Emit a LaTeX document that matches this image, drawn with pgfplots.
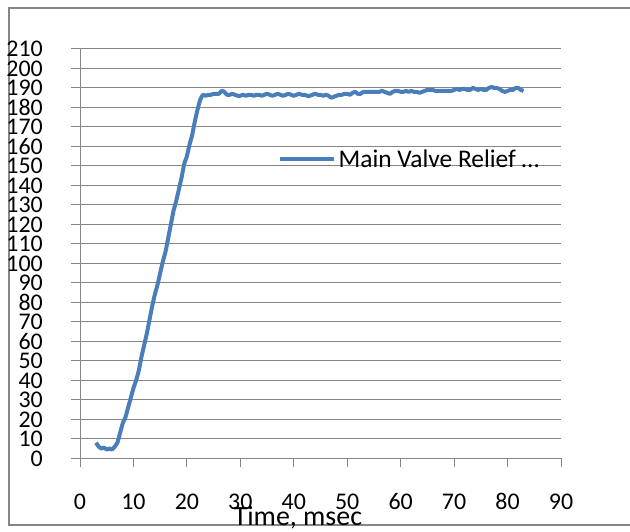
\documentclass[border=0pt]{standalone}
\usepackage{pgfplots}
\pgfplotsset{compat=1.18}
\usepackage{fontspec}
\setmainfont{Carlito}
\definecolor{lineblue}{RGB}{74,126,187}
\definecolor{gridgray}{RGB}{134,134,134}
\begin{document}
\begin{tikzpicture}[x=1bp,y=1bp]
\draw[gridgray, line width=2bp] (640,7) -- (9,7) -- (9,524) -- (640,524);
\begin{axis}[
  at={(80bp,73.7bp)}, anchor=south west,
  scale only axis, width=481bp, height=409.3bp,
  xmin=0, xmax=90, ymin=0, ymax=210,
  xtick={0,10,...,90}, ytick={0,10,...,210},
  axis x line*=bottom, axis y line*=left,
  axis line style={draw=gridgray, line width=1bp},
  ymajorgrids, grid style={draw=gridgray, line width=1bp},
  tick align=outside, major tick length=9bp,
  tick style={draw=gridgray, line width=1bp},
  /pgf/number format/assume math mode=true,
  ticklabel style={font=\fontsize{24}{24}\selectfont},
  yticklabel style={anchor=base east, inner sep=0pt, xshift=-28bp, yshift=-8bp, text height=15.5bp, text depth=0pt},
  xticklabel style={anchor=base, inner sep=0pt, yshift=-42.4bp, text height=15.5bp, text depth=0pt},
  xlabel={Time, msec},
  xlabel style={at={(axis description cs:0.453,0)}, anchor=base, inner sep=0pt, yshift=-67.7bp, font=\fontsize{28}{28}\selectfont, text height=17bp},
  legend style={at={(rel axis cs:0.4116,0.731)}, anchor=west, draw=none, fill=none, inner sep=0pt, font=\fontsize{25.5}{25.5}\selectfont, nodes={inner sep=0pt, inner xsep=2.5bp}},
  legend image code/.code={\draw[lineblue, line width=4bp] (0bp,0bp) -- (54bp,0bp);},
  clip=false,
]
\addplot[lineblue, line width=4bp, line join=round, smooth, tension=0.3] coordinates {
(3.0,8) (3.5,6) (4.0,5) (4.5,5.5) (5.0,4.5) (5.5,5) (6.0,4.5) (6.5,6) (7.0,8) (7.5,13)
(8.0,18) (8.5,21) (9.0,26) (9.5,31) (10.0,36) (10.5,40) (11.0,45) (11.5,52) (12.0,58) (12.5,64)
(13.0,71) (13.5,78) (14.0,84) (14.5,89) (15.0,95) (15.5,101) (16.0,106) (16.5,113) (17.0,120) (17.5,127)
(18.0,132) (18.5,138) (19.0,144) (19.5,151) (20.0,155) (20.5,161) (21.0,166) (21.5,173) (22.0,179) (22.5,184)
(23.0,186.5) (23.5,186) (24.0,186.5) (24.5,186.5) (25.0,187) (25.5,187) (26.0,187) (26.5,188.5) (27.0,188) (27.5,186.5)
(28.0,186.5) (28.5,187) (29.0,186.5) (29.5,186) (30,186) (30.5,186.5) (31,186) (31.5,186.5) (32,186.5) (32.5,186)
(33,186.5) (33.5,186.5) (34,186) (34.5,186.5) (35,187) (35.5,186.5) (36,186) (36.5,186.5) (37,187) (37.5,186.5)
(38,186) (38.5,186.5) (39,187) (39.5,186.5) (40,186) (40.5,186.5) (41,187) (41.5,186.5) (42,186.5) (42.5,186)
(43,186) (43.5,186.5) (44,187) (44.5,186.5) (45,186.5) (45.5,186) (46,186.5) (46.5,186) (47,185) (47.5,185.5)
(48,186) (48.5,186.5) (49,186.5) (49.5,187) (50,187) (50.5,186.5) (51,187.5) (51.5,188) (52,187) (52.5,187)
(53,188) (53.5,188) (54,188) (54.5,188) (55,188) (55.5,188) (56,188) (56.5,188.5) (57,188) (57.5,187.5)
(58,187) (58.5,188) (59,188.5) (59.5,188.5) (60,188) (60.5,188) (61,188.5) (61.5,188) (62,188.5) (62.5,188)
(63,188) (63.5,187.5) (64,188) (64.5,188.5) (65,189) (65.5,189) (66,189) (66.5,188.5) (67,188.5) (67.5,188.5)
(68,188.5) (68.5,188.5) (69,188.5) (69.5,188.5) (70,189) (70.5,189.5) (71,189) (71.5,189.5) (72,189.5) (72.5,189)
(73,189) (73.5,190) (74,189.5) (74.5,189) (75,189.5) (75.5,189) (76,189) (76.5,190) (77,190.5) (77.5,190)
(78,190) (78.5,189.5) (79,188.5) (79.5,188) (80,188.5) (80.5,189) (81,189) (81.5,190) (82,190) (82.5,189)
(83,188.5)
};
\addlegendentry{Main Valve Relief \dots}
\end{axis}
\pgfresetboundingbox
\path (0,0) rectangle (630,532);
\end{tikzpicture}
\end{document}
